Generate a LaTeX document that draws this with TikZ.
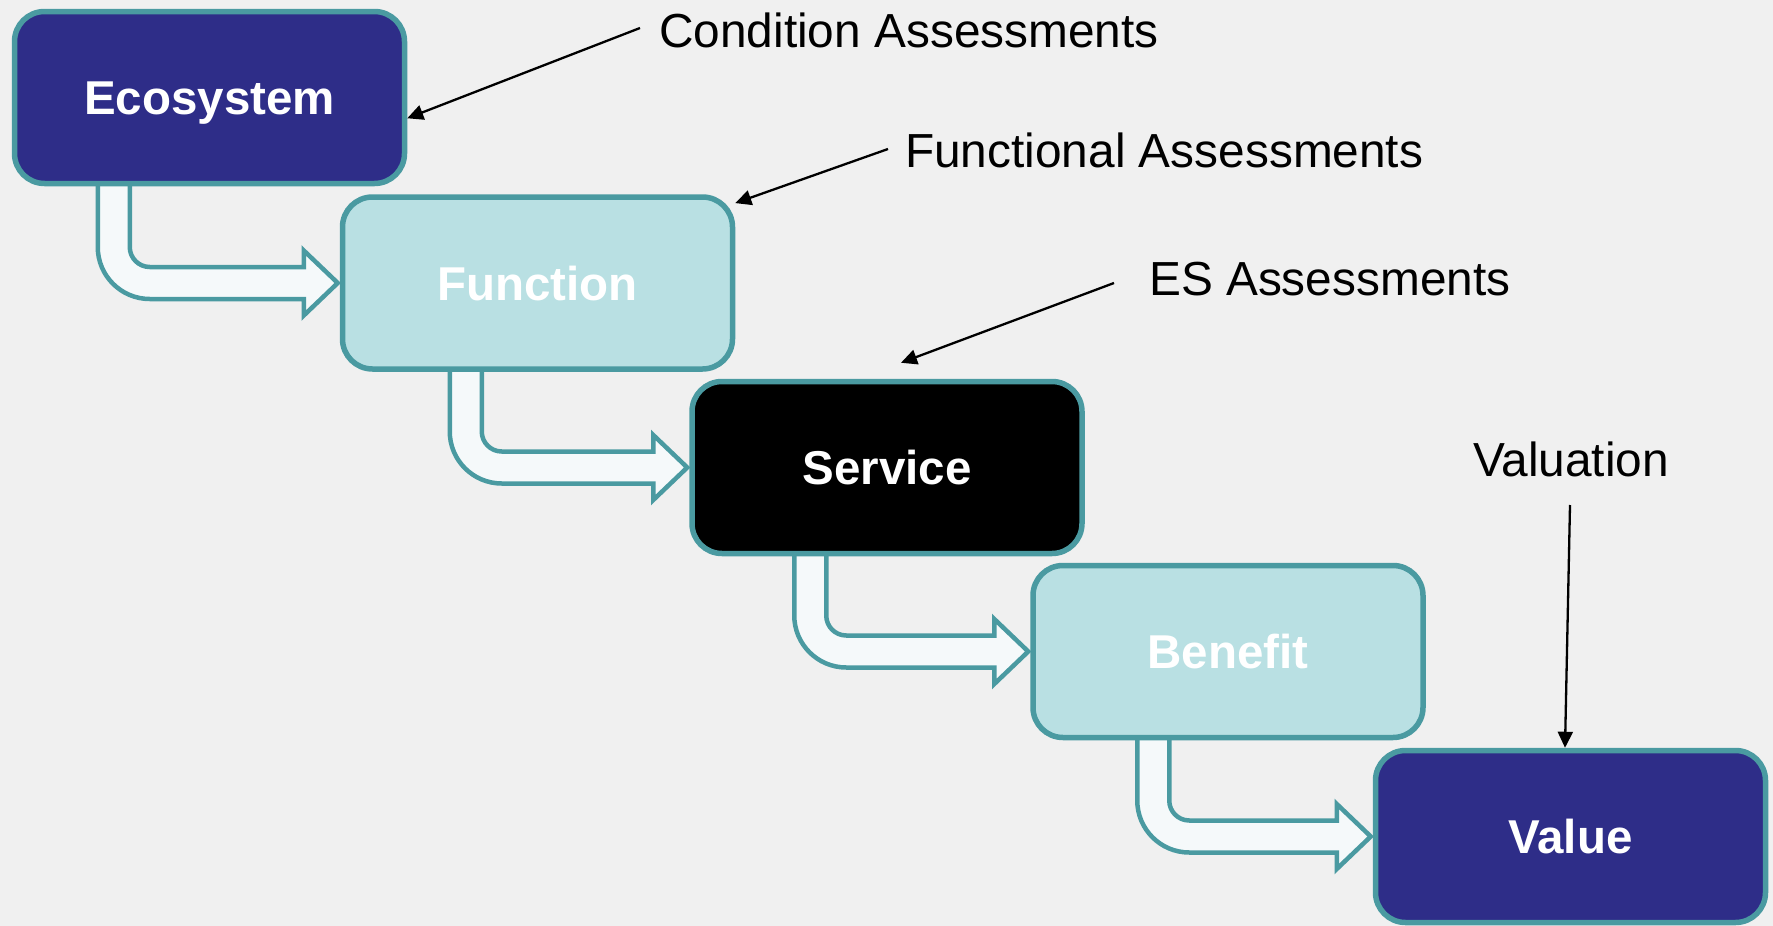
\documentclass[tikz,border=0pt]{standalone}
\usepackage{fontspec}
\setmainfont{Liberation Sans}
\usetikzlibrary{arrows.meta,calc}
\definecolor{navy}{HTML}{2E2D88}
\definecolor{tealb}{HTML}{4A9AA1}
\definecolor{lightc}{HTML}{B9E0E3}
\definecolor{afill}{HTML}{F5F9FA}
\definecolor{bgc}{HTML}{F0F0F0}
\pgfdeclarelayer{bglayer}
\pgfdeclarelayer{arrlayer}
\pgfsetlayers{bglayer,arrlayer,main}
\newcommand{\bentarrow}[3]{%
  \begin{pgfonlayer}{arrlayer}
  \path[bent] let \p1=($(#1.south west)+(#3,-10)$), \p2=($(#2.west)+(-2,0)$) in
    (\x1,\y1) -- (\x1,\y2+36pt)
    .. controls (\x1,\y2+7.28pt) and (\x1+23.28pt,\y2-16pt) .. (\x1+52pt,\y2-16pt)
    -- (\x2-34pt,\y2-16pt) -- (\x2-34pt,\y2-32.5pt) -- (\x2,\y2)
    -- (\x2-34pt,\y2+32.5pt) -- (\x2-34pt,\y2+16pt) -- (\x1+52pt,\y2+16pt)
    .. controls (\x1+40.95pt,\y2+16pt) and (\x1+32pt,\y2+24.95pt) .. (\x1+32pt,\y2+36pt)
    -- (\x1+32pt,\y1) -- cycle;
  \end{pgfonlayer}}
\begin{document}
\begin{tikzpicture}[x=1pt,y=-1pt,
  box/.style={rectangle,rounded corners=30pt,draw=tealb,line width=5.5pt,
    minimum width=390pt,minimum height=172pt,inner sep=0pt,text=white,
    font=\fontsize{47.5pt}{50pt}\selectfont\bfseries,text height=34pt,text depth=0pt},
  lbltext/.style={anchor=base west,inner sep=0pt,font=\fontsize{47.8pt}{50pt}\selectfont,text=black},
  lblarrow/.style={draw=black,line width=2.3pt,-{Triangle[length=16pt,width=15pt]}},
  bent/.style={draw=tealb,line width=4.5pt,fill=afill,line join=miter}]
\useasboundingbox (0,0) rectangle (1773,926);
\begin{pgfonlayer}{bglayer}
\fill[bgc] (0,0) rectangle (1773,926);
\end{pgfonlayer}

\node[box,fill=navy]   (eco) at (209.5,97.5)  {Ecosystem};
\node[box,fill=lightc] (fun) at (537.5,283)   {Function};
\node[box,fill=black]  (ser) at (887,467.5)   {Service};
\node[box,fill=lightc] (ben) at (1228,651.5)  {Benefit};
\node[box,fill=navy]   (val) at (1570.5,836.5) {Value};

\bentarrow{eco}{fun}{86}
\bentarrow{fun}{ser}{110}
\bentarrow{ser}{ben}{105}
\bentarrow{ben}{val}{107}

\node[lbltext] (lc)  at (659,47)   {Condition Assessments};
\node[lbltext] (lf)  at (905,167)  {Functional Assessments};
\node[lbltext] (les) at (1149,295) {ES Assessments};
\node[lbltext] (lv)  at (1473,476) {Valuation};

\coordinate (c1) at (640,28);
\coordinate (c2) at (888,149);
\coordinate (c3) at (1114,283);
\coordinate (c3t) at ([shift={(14,-16)}]ser.north);
\coordinate (c4) at (1570,505);
\draw[lblarrow] (c1) -- (eco.-6);
\draw[lblarrow] (c2) -- (fun.22);
\draw[lblarrow] (c3) -- (c3t);
\draw[lblarrow] (c4) -- ([xshift=-5.5pt]val.north);
\end{tikzpicture}
\end{document}
